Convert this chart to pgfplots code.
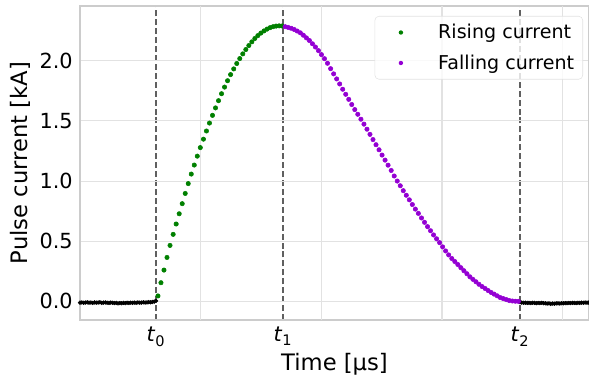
\documentclass[border=0pt]{standalone}
\usepackage{fontspec}
\setmainfont{DejaVu Sans}
\usepackage{pgfplots}
\pgfplotsset{compat=1.18}

\definecolor{rise}{HTML}{008000}
\definecolor{fall}{HTML}{9400D3}
\definecolor{gridc}{HTML}{E2E2E2}
\definecolor{spine}{HTML}{CCCCCC}
\definecolor{tline}{HTML}{606060}

% baseline before the pulse
\pgfplotstableread{
x y
0.000 -0.011
0.015 -0.009
0.030 -0.012
0.045 -0.010
0.060 -0.008
0.075 -0.011
0.090 -0.010
0.105 -0.013
0.120 -0.009
0.135 -0.011
0.150 -0.010
0.165 -0.008
0.180 -0.012
0.195 -0.010
0.210 -0.009
0.225 -0.011
0.240 -0.013
0.255 -0.010
0.270 -0.012
0.285 -0.014
0.300 -0.013
0.315 -0.016
0.330 -0.014
0.345 -0.015
0.360 -0.013
0.375 -0.014
0.390 -0.012
0.405 -0.013
0.420 -0.011
0.435 -0.012
0.450 -0.010
0.465 -0.012
0.480 -0.009
0.495 -0.011
0.510 -0.010
0.525 -0.008
0.540 -0.010
0.555 -0.009
0.570 -0.007
0.585 -0.008
0.600 -0.005
0.615 -0.002
0.630 0.004
}\basepre

% baseline after the pulse
\pgfplotstableread{
x y
3.646 -0.006
3.661 -0.010
3.676 -0.012
3.691 -0.011
3.706 -0.013
3.721 -0.012
3.736 -0.014
3.751 -0.012
3.766 -0.013
3.781 -0.015
3.796 -0.013
3.811 -0.014
3.826 -0.012
3.841 -0.015
3.856 -0.016
3.871 -0.018
3.886 -0.017
3.901 -0.020
3.916 -0.018
3.931 -0.019
3.946 -0.017
3.961 -0.016
3.976 -0.018
3.991 -0.015
4.006 -0.016
4.021 -0.014
4.036 -0.015
4.051 -0.013
4.066 -0.014
4.081 -0.012
4.096 -0.013
4.111 -0.014
4.126 -0.012
4.141 -0.013
4.156 -0.011
4.171 -0.012
4.186 -0.010
4.201 -0.011
4.216 -0.010
}\basepost

% rising edge, t0 .. t1
\pgfplotstableread{
x y
0.646 0.045
0.671 0.155
0.696 0.260
0.721 0.365
0.746 0.465
0.772 0.557
0.797 0.643
0.822 0.728
0.847 0.812
0.872 0.897
0.897 0.979
0.922 1.058
0.947 1.133
0.972 1.207
0.997 1.278
1.023 1.348
1.048 1.416
1.073 1.482
1.098 1.546
1.123 1.608
1.148 1.668
1.173 1.726
1.198 1.781
1.223 1.834
1.248 1.885
1.274 1.932
1.299 1.977
1.324 2.018
1.349 2.057
1.374 2.093
1.399 2.126
1.424 2.157
1.449 2.185
1.474 2.209
1.499 2.230
1.525 2.248
1.550 2.263
1.575 2.275
1.600 2.283
1.625 2.288
1.650 2.290
1.675 2.289
}\rising

% falling edge, t1 .. t2
\pgfplotstableread{
x y
1.700 2.283
1.725 2.277
1.750 2.270
1.775 2.260
1.800 2.247
1.826 2.232
1.851 2.212
1.876 2.190
1.901 2.168
1.926 2.141
1.951 2.114
1.976 2.084
2.001 2.051
2.026 2.017
2.051 1.979
2.077 1.934
2.102 1.891
2.127 1.849
2.152 1.807
2.177 1.763
2.202 1.721
2.227 1.679
2.252 1.636
2.277 1.594
2.302 1.555
2.328 1.514
2.353 1.473
2.378 1.431
2.403 1.388
2.428 1.345
2.453 1.302
2.478 1.260
2.503 1.216
2.528 1.174
2.553 1.132
2.579 1.088
2.604 1.042
2.629 1.000
2.654 0.961
2.679 0.920
2.704 0.882
2.729 0.844
2.754 0.805
2.779 0.767
2.804 0.731
2.830 0.693
2.855 0.657
2.880 0.621
2.905 0.587
2.930 0.552
2.955 0.520
2.980 0.488
3.005 0.453
3.030 0.419
3.055 0.386
3.081 0.356
3.106 0.331
3.131 0.306
3.156 0.280
3.181 0.255
3.206 0.230
3.231 0.204
3.256 0.183
3.281 0.163
3.306 0.142
3.332 0.123
3.357 0.107
3.382 0.090
3.407 0.074
3.432 0.060
3.457 0.046
3.482 0.032
3.507 0.023
3.532 0.015
3.557 0.007
3.583 0.003
3.608 0.001
3.633 0.000
}\falling

\begin{document}
\begin{tikzpicture}
\begin{axis}[
  scale only axis,
  width=381.75pt, height=235.5pt,
  xmin=0, xmax=4.218,
  ymin=-0.155, ymax=2.455,
  axis line style={spine, line width=0.8pt},
  major tick length=0pt,
  xtick={0.630,1.682,3.646},
  xticklabels={\textit{t}\textsubscript{0},\textit{t}\textsubscript{1},\textit{t}\textsubscript{2}},
  xmajorgrids,
  major x grid style={tline, dashed, dash pattern=on 4.5pt off 2.2pt, line width=0.9pt},
  extra x ticks={1,2,3,4},
  extra x tick labels={},
  extra x tick style={major x grid style={gridc, solid, line width=0.8pt}},
  ytick={0,0.5,1,1.5,2},
  ymajorgrids,
  major y grid style={gridc, line width=0.8pt},
  /pgf/number format/assume math mode=true,
  yticklabel style={/pgf/number format/fixed, /pgf/number format/fixed zerofill, /pgf/number format/precision=1},
  tick label style={font=\fontsize{15.6}{18}\selectfont},
  xticklabel style={yshift=-2pt},
  yticklabel style={xshift=-2pt},
  label style={font=\fontsize{17}{20}\selectfont},
  xlabel={Time [µs]},
  ylabel={Pulse current [kA]},
  xlabel style={yshift=2pt},
  legend style={
    at={(1,1)}, anchor=north east, xshift=-4.5pt, yshift=-7.5pt,
    draw=gridc, rounded corners=3pt, fill=white, fill opacity=0.8, text opacity=1,
    font=\fontsize{14.3}{17}\selectfont,
    inner xsep=4.5pt, inner ysep=4pt,
    row sep=6.5pt,
    /tikz/every odd column/.append style={column sep=11pt},
  },
  legend image code/.code={%
    \path[draw=none, fill=none] (0pt,0pt) -- (30pt,0pt);
    \fill[#1, draw=none, fill opacity=1] (15pt,0pt) circle[radius=1.65pt];},
  legend cell align=left,
]
\coordinate (ll) at (rel axis cs:0,0);
\coordinate (ur) at (rel axis cs:1,1);

\addplot[only marks, mark=*, mark size=1.4pt, black, forget plot] table[x=x,y=y] {\basepre};
\addplot[only marks, mark=*, mark size=1.4pt, black, forget plot] table[x=x,y=y] {\basepost};
\addplot[only marks, mark=*, mark size=1.65pt, draw=none, fill=rise, mark options={draw=rise, fill=rise}] table[x=x,y=y] {\rising};
\addlegendentry{Rising current}
\addplot[only marks, mark=*, mark size=1.65pt, draw=none, fill=fall, mark options={draw=fall, fill=fall}] table[x=x,y=y] {\falling};
\addlegendentry{Falling current}
\end{axis}
\pgfresetboundingbox
\path ([xshift=-60pt,yshift=-42.75pt]ll) rectangle ([yshift=4.5pt]ur);
\end{tikzpicture}
\end{document}
